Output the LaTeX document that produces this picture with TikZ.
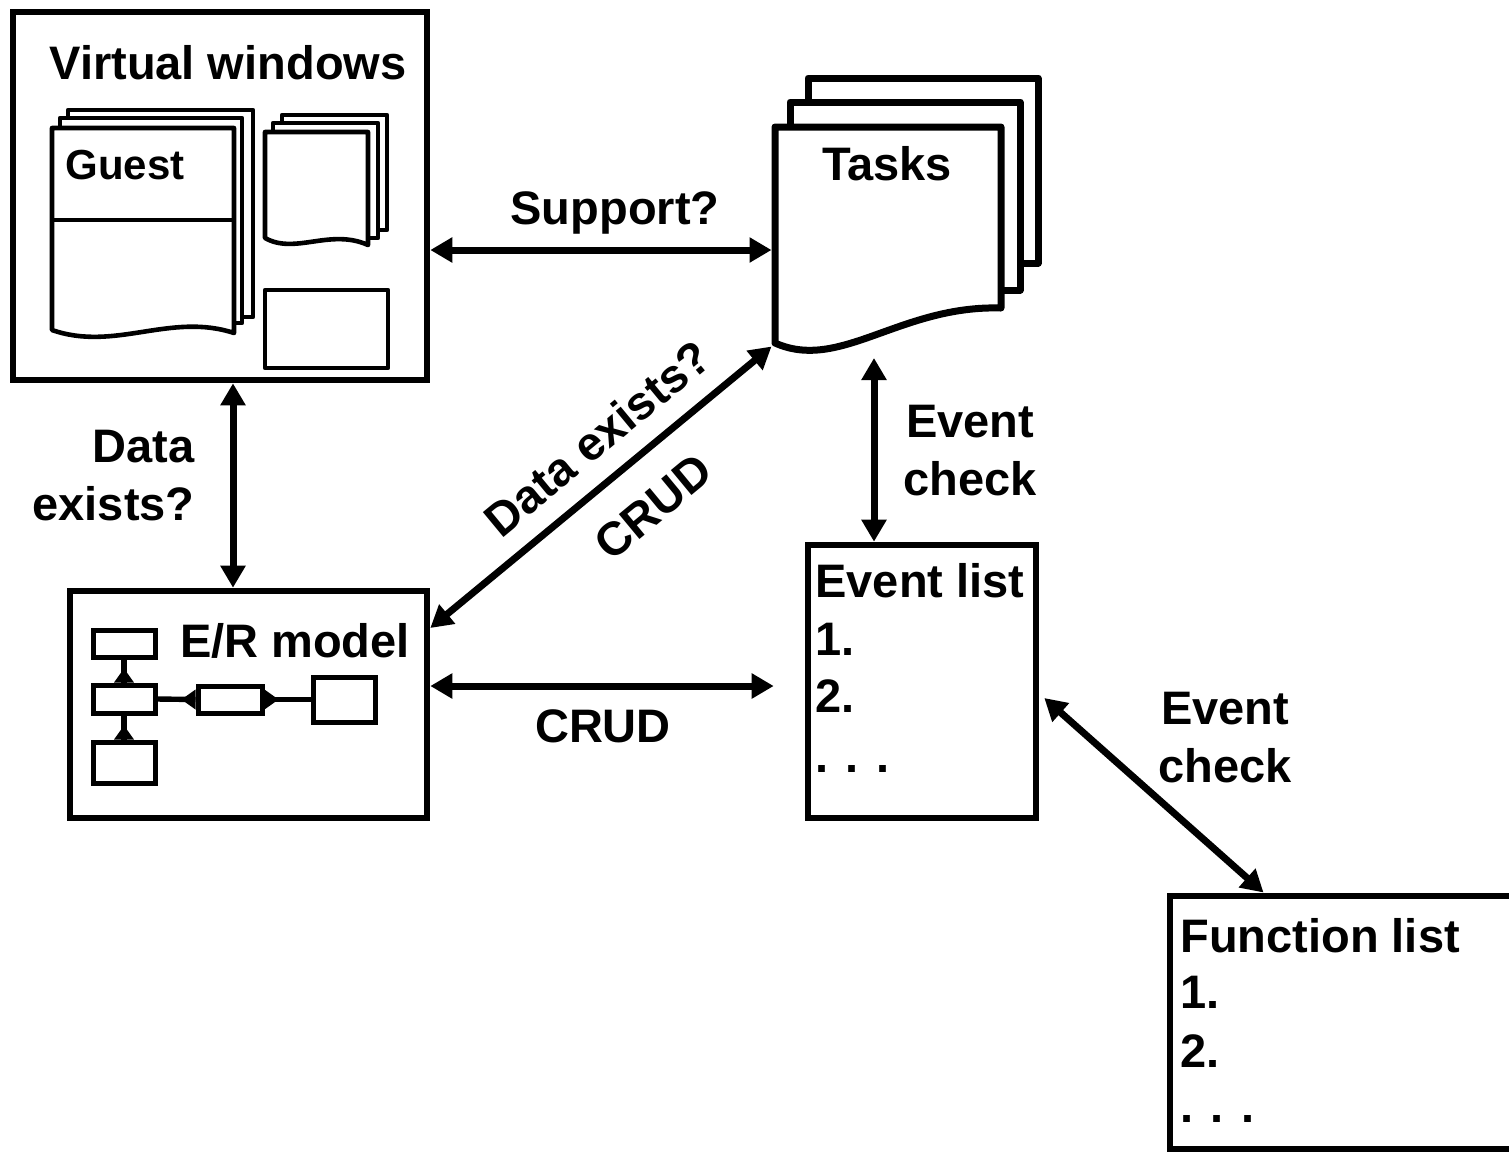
\documentclass[tikz,border=0pt]{standalone}
\usepackage{fontspec}
\setmainfont{Liberation Sans}
\usetikzlibrary{arrows.meta,fit,calc}
\begin{document}
\begin{tikzpicture}[x=0.5pt,y=-0.5pt,
  every node/.style={font=\fontsize{23.5}{29}\selectfont\bfseries, inner sep=0pt},
  box/.style={draw, line width=3.3pt, inner sep=0pt, fill=white},
  boxline/.style={line width=3.3pt, line join=miter},
  area/.style={inner sep=0pt, outer sep=1.75pt},
  page/.style={draw, line width=2.3pt, fill=white, line join=round},
  taskpage/.style={draw, line width=3.5pt, fill=white, line join=round},
  erpart/.style={draw, line width=2.5pt, inner sep=0pt, fill=white},
  erline/.style={line width=2.7pt},
  link/.style={line width=3.5pt, {Triangle[length=11pt,width=12pt]}-{Triangle[length=11pt,width=12pt]}},
  lbl/.style={anchor=base},
  lblw/.style={anchor=base west},
]
\useasboundingbox (0,0) rectangle (1509,1153);
\clip (0,0) rectangle (1509,1153);

% ---- Virtual windows ----
\node[box, fit={(13,12)(427,380)}] (vw) {};
\node[lbl] (vwtitle) at (228,79) {Virtual windows};
% stacked "Guest" window
\draw[page] (68,110) rectangle (253,317);
\draw[page] (60,118) rectangle (242,323);
\draw[page] (52,330) -- (52,128) -- (234,128) -- (234,333)
  .. controls (170,312) and (115,352) .. (52,330) -- cycle;
\draw[page] (52,220) -- (234,220);
\node[lblw] (guest) at (65,179) {\fontsize{21}{25}\selectfont Guest};
% small stacked window
\draw[page] (282,115) rectangle (387,230);
\draw[page] (273,123) rectangle (378,238);
\draw[page] (265,238) -- (265,132) -- (368,132) -- (368,245)
  .. controls (330,228) and (295,255) .. (265,238) -- cycle;
\draw[page] (265,290) rectangle (388,368);

% ---- Tasks ----
\draw[taskpage] (808,78) rectangle (1038,263);
\draw[taskpage] (790,102) rectangle (1020,290);
\draw[taskpage] (775,343) -- (775,127) -- (1001,127) -- (1001,308)
  .. controls (900,305) and (840,372) .. (775,343) -- cycle;
\node[area, fit={(775,127)(1001,343)}] (tasks) {};
\node[lbl] (taskstitle) at (887,180) {Tasks};

% ---- E/R model ----
\node[box, fit={(70,591)(427,818)}] (er) {};
\node[lbl] (ertitle) at (295,657) {E/R model};
\node[erpart, fit={(93,630)(155,657)}] (e1) {};
\node[erpart, fit={(93,685)(155,713)}] (e2) {};
\node[erpart, fit={(93,742)(155,783)}] (e3) {};
\node[erpart, fit={(198,686)(262,713)}] (rel) {};
\node[erpart, fit={(313,677)(375,722)}] (e4) {};
\draw[erline] (e2.north) -- (e1.south);
\draw[erline] (e3.north) -- (e2.south);
\draw[erline] (rel.west) -- (e2.east);
\draw[erline] (rel.east) -- (e4.west);
\fill ($(e2.north)+(-10,0)$) -- ($(e2.north)+(10,0)$) -- ($(e2.north)+(0,-14)$) -- cycle;
\fill ($(e3.north)+(-10,0)$) -- ($(e3.north)+(10,0)$) -- ($(e3.north)+(0,-14)$) -- cycle;
\fill ($(rel.west)+(0,-10)$) -- ($(rel.west)+(0,10)$) -- ($(rel.west)+(-14,0)$) -- cycle;
\fill ($(rel.east)+(0,-10)$) -- ($(rel.east)+(0,10)$) -- ($(rel.east)+(14,0)$) -- cycle;

% ---- Event list ----
\node[box, fit={(808,545)(1036,818)}] (evl) {};
\node[lblw] (evl0) at (815,597) {Event list};
\node[lblw] (evl1) at (815,655) {1.};
\node[lblw] (evl2) at (815,712) {2.};
\node[lblw] (evl3) at (815,772) {. . .};

% ---- Function list (open to the right, runs off the edge) ----
\node[area, fit={(1170,896)(1620,1149)}] (fnl) {};
\draw[boxline] (1620,896) -- (1170,896) -- (1170,1149) -- (1620,1149);
\node[lblw] (fnl0) at (1180,952) {Function list};
\node[lblw] (fnl1) at (1180,1008) {1.};
\node[lblw] (fnl2) at (1180,1067) {2.};
\node[lblw] (fnl3) at (1180,1122) {. . .};

% ---- Connectors ----
\draw[link] (vw.east |- 0,250) -- (tasks.west |- 0,250);
\node[lbl] (support) at (615,224) {Support?};

\draw[link] (233,0 |- vw.south) -- (233,0 |- er.north);
\node[anchor=base east] (de1) at (195,462) {Data};
\node[anchor=base east] (de2) at (195,520) {exists?};

\draw[link] (er.east |- 0,628) -- (tasks.south west);
\node[rotate=39.6] (de3) at (597,438) {Data exists?};
\node[rotate=39.6] (crud1) at (653,507) {CRUD};

\draw[link] (er.east |- 0,686) -- ($(evl.west |- 0,686)+(-31,0)$);
\node[lbl] (crud2) at (603,742) {CRUD};

\coordinate (taskfoot) at (874,358);
\draw[link] (taskfoot) -- (taskfoot |- evl.north);
\node[lbl] (ec1) at (970,437) {Event};
\node[lbl] (ec2) at (970,495) {check};

\draw[link] ($(evl.east |- 0,698)+(5,0)$) -- ($(fnl.north west)+(97,0)$);
\node[lbl] (ec3) at (1225,724) {Event};
\node[lbl] (ec4) at (1225,782) {check};
\end{tikzpicture}
\end{document}
